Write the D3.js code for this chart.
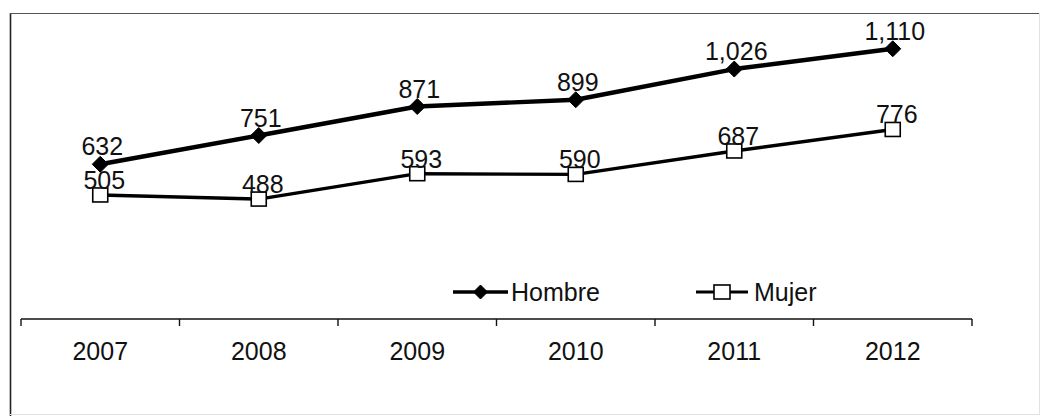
<!DOCTYPE html>
<html>
<head>
<meta charset="utf-8">
<script src="https://cdn.jsdelivr.net/npm/d3@7"></script>
<style>
  html, body { margin: 0; padding: 0; background: #fff; }
  svg { display: block; }
  text { font-family: "Liberation Sans", Arial, sans-serif; fill: #111; }
</style>
</head>
<body>
<svg id="chart" width="1046" height="418"></svg>
<script>
const years = ["2007", "2008", "2009", "2010", "2011", "2012"];
const hombre = [632, 751, 871, 899, 1026, 1110];
const mujer = [505, 488, 593, 590, 687, 776];
const seriesNames = ["Hombre", "Mujer"];

const svg = d3.select("#chart");
const W = 1046, H = 418;

// frame
svg.append("line").attr("x1", 10.5).attr("x2", 10.5).attr("y1", 13).attr("y2", 416)
  .attr("stroke", "#222").attr("stroke-width", 1.6);
svg.append("line").attr("x1", 10).attr("x2", 1040).attr("y1", 13.5).attr("y2", 13.5)
  .attr("stroke", "#555").attr("stroke-width", 1.2);
svg.append("line").attr("x1", 1039.5).attr("x2", 1039.5).attr("y1", 13).attr("y2", 415)
  .attr("stroke", "#e2e2e2").attr("stroke-width", 1);
svg.append("line").attr("x1", 10).attr("x2", 1040).attr("y1", 414.5).attr("y2", 414.5)
  .attr("stroke", "#e2e2e2").attr("stroke-width", 1);

const x = d3.scaleBand().domain(years).range([21, 972]).padding(0);
const y = d3.scaleLinear().domain([0, 1200]).range([317, 27]);
const cx = d => x(d) + x.bandwidth() / 2;

// x axis with ticks at category boundaries
const axisY = 319;
const axisG = svg.append("g").attr("transform", `translate(0,${axisY})`);
axisG.append("line").attr("x1", x.range()[0]).attr("x2", x.range()[1])
  .attr("y1", 0).attr("y2", 0).attr("stroke", "#111").attr("stroke-width", 1.6);
const boundaries = years.map(d => x(d)).concat([x.range()[1]]);
axisG.selectAll("line.tick").data(boundaries).join("line").attr("class", "tick")
  .attr("x1", d => d).attr("x2", d => d).attr("y1", 0).attr("y2", 7)
  .attr("stroke", "#111").attr("stroke-width", 1.4);
axisG.selectAll("text.yr").data(years).join("text").attr("class", "yr")
  .attr("x", d => cx(d)).attr("y", 41).attr("text-anchor", "middle")
  .attr("font-size", 25).text(d => d);

const line = d3.line().x((d, i) => cx(years[i])).y(d => y(d));

function diamond(g, px, py, r) {
  g.append("path")
    .attr("d", `M${px},${py - r}L${px + r},${py}L${px},${py + r}L${px - r},${py}Z`)
    .attr("fill", "#000").attr("stroke", "#000").attr("stroke-width", 1);
}
function square(g, px, py, w, h) {
  g.append("rect").attr("x", px - w / 2).attr("y", py - h / 2).attr("width", w).attr("height", h)
    .attr("fill", "#fff").attr("stroke", "#000").attr("stroke-width", 1.6);
}

// Mujer line
svg.append("path").datum(mujer).attr("d", line).attr("fill", "none")
  .attr("stroke", "#000").attr("stroke-width", 3.4).attr("stroke-linejoin", "round");
// Hombre line
svg.append("path").datum(hombre).attr("d", line).attr("fill", "none")
  .attr("stroke", "#000").attr("stroke-width", 4.4).attr("stroke-linejoin", "round");

const mk = svg.append("g");
mujer.forEach((v, i) => square(mk, cx(years[i]), y(v), 15, 14));
hombre.forEach((v, i) => diamond(mk, cx(years[i]), y(v), 8));

const fmt = d3.format(",");
svg.append("g").selectAll("text").data(hombre).join("text")
  .attr("x", (d, i) => cx(years[i]) + 2).attr("y", d => y(d) - 9)
  .attr("text-anchor", "middle").attr("font-size", 25).text(d => fmt(d));
svg.append("g").selectAll("text").data(mujer).join("text")
  .attr("x", (d, i) => cx(years[i]) + 4).attr("y", d => y(d) - 6)
  .attr("text-anchor", "middle").attr("font-size", 25).text(d => fmt(d));

// legend
const lg = svg.append("g");
const ly = 292;
lg.append("line").attr("x1", 453).attr("x2", 508).attr("y1", ly).attr("y2", ly)
  .attr("stroke", "#000").attr("stroke-width", 3.6);
diamond(lg, 480.5, ly, 7);
lg.append("text").attr("x", 511).attr("y", ly + 9).attr("font-size", 25).text(seriesNames[0]);
lg.append("line").attr("x1", 696).attr("x2", 748).attr("y1", ly).attr("y2", ly)
  .attr("stroke", "#000").attr("stroke-width", 3);
square(lg, 722, ly, 16, 14);
lg.append("text").attr("x", 754).attr("y", ly + 9).attr("font-size", 25).text(seriesNames[1]);
</script>
</body>
</html>
